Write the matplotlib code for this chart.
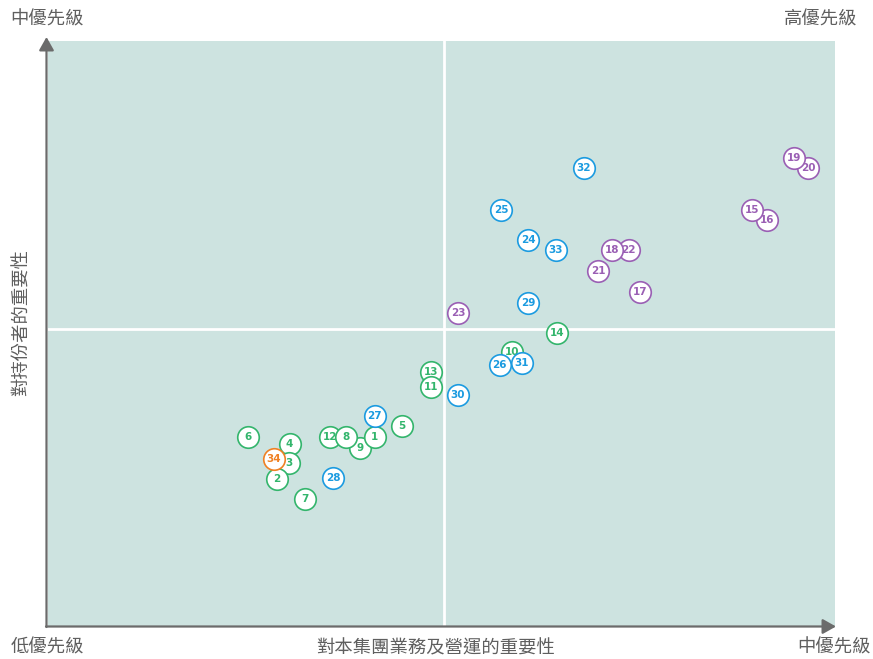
import matplotlib
matplotlib.use("Agg")
import matplotlib.pyplot as plt
from matplotlib.patches import FancyArrowPatch

plt.rcParams['font.family'] = ['Noto Sans CJK TC', 'DejaVu Sans']

# data (x: importance to group business, y: importance to stakeholders), 0-100 scale
green_ids = [1, 2, 3, 4, 5, 6, 7, 8, 9, 10, 11, 12, 13, 14]
green_x = [41.5, 29.1, 30.6, 30.7, 45.0, 25.4, 32.7, 37.9, 39.6, 59.0, 48.7, 35.8, 48.7, 64.7]
green_y = [32.3, 25.1, 27.9, 31.1, 34.2, 32.3, 21.7, 32.3, 30.4, 46.8, 40.9, 32.3, 43.4, 50.1]

purple_ids = [15, 16, 17, 18, 19, 20, 21, 22, 23]
purple_x = [89.5, 91.4, 75.2, 71.7, 94.8, 96.6, 69.9, 73.8, 52.1]
purple_y = [71.1, 69.4, 57.1, 64.3, 80.0, 78.3, 60.7, 64.3, 53.5]

blue_ids = [24, 25, 26, 27, 28, 29, 30, 31, 32, 33]
blue_x = [61.0, 57.6, 57.4, 41.5, 36.2, 61.0, 52.1, 60.2, 68.1, 64.5]
blue_y = [66.0, 71.1, 44.6, 35.9, 25.3, 55.2, 39.5, 45.0, 78.3, 64.3]

orange_ids = [34]
orange_x = [28.7]
orange_y = [28.5]

x_mid = 50.3
y_mid = 50.8

corner_labels = ["中優先級", "高優先級", "低優先級", "中優先級"]
x_label = "對本集團業務及營運的重要性"
y_label = "對持份者的重要性"

W, H = 873, 659
fig = plt.figure(figsize=(W / 100, H / 100), dpi=100)
ax = fig.add_axes([48 / W, (H - 626) / H, 787 / W, 585 / H])
ax.set_facecolor('#cde3e0')
ax.set_xlim(0, 100)
ax.set_ylim(0, 100)
for s in ax.spines.values():
    s.set_visible(False)
ax.set_xticks([])
ax.set_yticks([])

ax.axvline(x_mid, color='white', lw=2, zorder=1)
ax.axhline(y_mid, color='white', lw=2, zorder=1)

groups = [
    (green_ids, green_x, green_y, '#33b56c'),
    (blue_ids, blue_x, blue_y, '#1b9be0'),
    (purple_ids, purple_x, purple_y, '#9a5fb4'),
    (orange_ids, orange_x, orange_y, '#f08124'),
]
z = 3
for ids, xs, ys, col in groups:
    for i, x, y in reversed(list(zip(ids, xs, ys))):
        ax.scatter([x], [y], s=240, facecolor='white', edgecolor=col,
                   linewidth=1.2, zorder=z, clip_on=False)
        ax.text(x, y, str(i), color=col, fontsize=7.5, fontweight='bold',
                ha='center', va='center', zorder=z + 0.5,
                family=['DejaVu Sans'])
        z += 1

axis_col = '#6b6b6b'
# axis arrows in figure pixel coordinates
def fx(px):
    return px / W

def fy(py):
    return (H - py) / H

fig.add_artist(FancyArrowPatch((fx(46.5), fy(627)), (fx(46.5), fy(37)),
                               transform=fig.transFigure,
                               arrowstyle='-|>,head_length=8,head_width=4.5',
                               color=axis_col, lw=1.6, shrinkA=0, shrinkB=0,
                               mutation_scale=1))
fig.add_artist(FancyArrowPatch((fx(46), fy(626.5)), (fx(836), fy(626.5)),
                               transform=fig.transFigure,
                               arrowstyle='-|>,head_length=8,head_width=4.5',
                               color=axis_col, lw=1.6, shrinkA=0, shrinkB=0,
                               mutation_scale=1))

txt_col = '#5f5f5f'
fs = 13.2
fig.text(fx(47), fy(19), corner_labels[0], ha='center', va='center', fontsize=fs, color=txt_col)
fig.text(fx(821), fy(19), corner_labels[1], ha='center', va='center', fontsize=fs, color=txt_col)
fig.text(fx(47), fy(648), corner_labels[2], ha='center', va='center', fontsize=fs, color=txt_col)
fig.text(fx(834), fy(648), corner_labels[3], ha='center', va='center', fontsize=fs, color=txt_col)
fig.text(fx(436), fy(648), x_label, ha='center', va='center', fontsize=fs, color=txt_col)
fig.text(fx(22), fy(322), y_label, ha='center', va='center', fontsize=fs, color=txt_col,
         rotation=90)

fig.savefig('out.png', dpi=100)
